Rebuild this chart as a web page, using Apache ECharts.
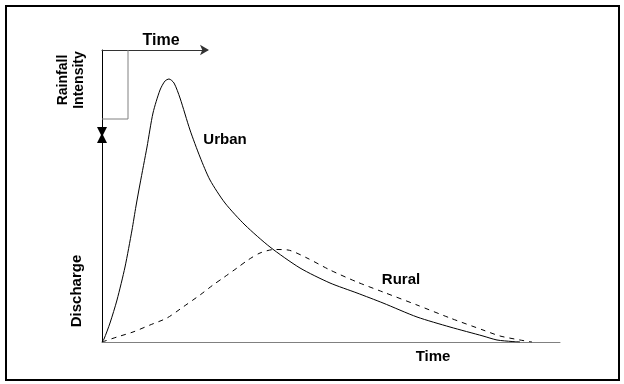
<!DOCTYPE html>
<html>
<head>
<meta charset="utf-8">
<script src="https://cdn.jsdelivr.net/npm/echarts@6/dist/echarts.min.js"></script>
<style>html,body{margin:0;padding:0;background:#fff}#c{width:624px;height:384px}</style>
</head>
<body>
<div id="c"></div>
<script>
// Hydrograph values (arbitrary units)
const urbanTime      = [0, 2, 8, 15, 23, 30, 34, 38, 45, 51, 58, 63, 67, 72, 78, 88, 98, 108, 123, 143, 168, 198, 228, 255, 281, 315, 348, 381, 395, 410, 418];
const urbanDischarge = [0, 3, 19, 42, 75, 112, 136, 158, 195, 229, 252, 261, 263, 259, 244, 212, 185, 162, 139, 117, 95, 74, 59, 49, 39, 25, 15, 6, 2, 0.5, 0];
const ruralTime      = [0, 15, 31, 48, 65, 81, 98, 111, 121, 135, 146, 158, 172, 186, 205, 228, 255, 281, 315, 348, 381, 398, 418, 430];
const ruralDischarge = [0, 5, 10, 17, 24, 35, 47, 57, 64, 74, 82, 89, 92.5, 92, 84, 72, 60, 50, 37, 24, 12, 6, 2, 0];
// Rainfall block (hangs from the top time axis)
const rainTime      = [0, 26, 26];
const rainIntensity = [69, 69, 0];
// Axis extents
const timeMax = 458, dischargeMax = 292, rainAxisMax = 105, rainScaleMax = 100;

const pairs = (xs, ys) => xs.map((x, i) => [x, ys[i]]);
const font = "'Liberation Sans', Arial, sans-serif";

const chart = echarts.init(document.getElementById('c'), null, {renderer: 'canvas'});
chart.setOption({
  animation: false,
  backgroundColor: '#fff',
  grid: [
    {left: 102, top: 50, width: 458, height: 292},
    {left: 102, top: 50, width: 105, height: 100}
  ],
  xAxis: [
    {type: 'value', gridIndex: 0, min: 0, max: timeMax,
     axisLine: {show: true, onZero: false, lineStyle: {color: '#808080', width: 1}},
     axisTick: {show: false}, axisLabel: {show: false}, splitLine: {show: false}},
    {type: 'value', gridIndex: 1, position: 'top', min: 0, max: rainAxisMax,
     axisLine: {show: true, onZero: false, symbol: ['none', 'arrow'], symbolSize: [8, 9], symbolOffset: [0, 2],
                lineStyle: {color: '#333', width: 1}},
     axisTick: {show: false}, axisLabel: {show: false}, splitLine: {show: false}}
  ],
  yAxis: [
    {type: 'value', gridIndex: 0, min: 0, max: dischargeMax,
     axisLine: {show: true, onZero: false, lineStyle: {color: '#000', width: 1}},
     axisTick: {show: false}, axisLabel: {show: false}, splitLine: {show: false}},
    {type: 'value', gridIndex: 1, min: 0, max: rainScaleMax, inverse: true, show: false}
  ],
  series: [
    {type: 'line', name: 'Urban', xAxisIndex: 0, yAxisIndex: 0, data: pairs(urbanTime, urbanDischarge),
     smooth: 0.25, symbol: 'none', lineStyle: {color: '#000', width: 1}},
    {type: 'line', name: 'Rural', xAxisIndex: 0, yAxisIndex: 0, data: pairs(ruralTime, ruralDischarge),
     smooth: 0.25, symbol: 'none', lineStyle: {color: '#000', width: 1, type: [5, 5]}},
    {type: 'line', name: 'Rainfall', xAxisIndex: 1, yAxisIndex: 1, data: pairs(rainTime, rainIntensity),
     symbol: 'none', lineStyle: {color: '#808080', width: 1}}
  ],
  graphic: [
    {type: 'rect', shape: {x: 6, y: 6, width: 613, height: 374},
     style: {fill: 'none', stroke: '#000', lineWidth: 2}, silent: true},
    {type: 'polygon', shape: {points: [[97, 127], [107, 127], [103, 135], [107, 143], [97, 143], [101, 135]]},
     style: {fill: '#000'}},
    {type: 'text', x: 161, y: 41, style: {text: 'Time', font: 'bold 16px ' + font, fill: '#000', align: 'center', verticalAlign: 'middle'}},
    {type: 'text', x: 225, y: 140, style: {text: 'Urban', font: 'bold 15px ' + font, fill: '#000', align: 'center', verticalAlign: 'middle'}},
    {type: 'text', x: 401, y: 280, style: {text: 'Rural', font: 'bold 15px ' + font, fill: '#000', align: 'center', verticalAlign: 'middle'}},
    {type: 'text', x: 433, y: 357, style: {text: 'Time', font: 'bold 15px ' + font, fill: '#000', align: 'center', verticalAlign: 'middle'}},
    {type: 'text', x: 71, y: 80, rotation: Math.PI / 2,
     style: {text: 'Rainfall\nIntensity', font: 'bold 14px ' + font, lineHeight: 16, fill: '#000', align: 'center', verticalAlign: 'middle'}},
    {type: 'text', x: 77, y: 291, rotation: Math.PI / 2,
     style: {text: 'Discharge', font: 'bold 15px ' + font, fill: '#000', align: 'center', verticalAlign: 'middle'}}
  ]
});
</script>
</body>
</html>
